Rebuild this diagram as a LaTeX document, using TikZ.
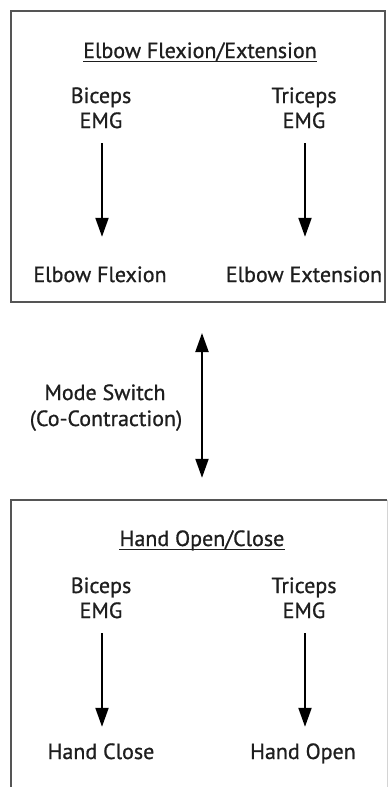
\documentclass[tikz,border=0pt]{standalone}
\usepackage{fontspec}
\setmainfont[FakeBold=0.8]{PT Sans}
\usetikzlibrary{arrows.meta}
\definecolor{txt}{HTML}{1E1E1E}
\definecolor{boxline}{HTML}{555555}
\begin{document}
\begin{tikzpicture}[x=1pt,y=-1pt,
  lbl/.style={inner sep=0pt, anchor=base, text height=16pt, text depth=5pt, text=txt, font=\fontsize{22}{26}\selectfont},
  arr/.style={line width=2pt, -{Triangle[length=19pt,width=13pt]}},
  dbl/.style={line width=2pt, {Triangle[length=19pt,width=13pt]}-{Triangle[length=19pt,width=13pt]}},
  frame/.style={draw=boxline, line width=2pt},
  uline/.style={draw=txt, line width=1pt}]
\useasboundingbox (0,0) rectangle (390,787);
\fill[white] (0,0) rectangle (390,787);

% top box
\node[frame, minimum width=374pt, minimum height=291pt, inner sep=0pt] (topbox) at (198,156.5) {};
\node[lbl] (t1) at (200,58) {Elbow Flexion/Extension};
\draw[uline] ([yshift=-3pt]t1.base west) -- ([yshift=-3pt]t1.base east);
\node[lbl] (b1) at (101,103) {Biceps};
\node[lbl] (e1) at (101,128) {EMG};
\node[lbl] (tr1) at (304,103) {Triceps};
\node[lbl] (f1) at (304,128) {EMG};
\node[lbl] (flex) at (100,282) {Elbow Flexion};
\node[lbl] (ext) at (304,282) {Elbow Extension};
\draw[arr, shorten <=10pt, shorten >=29pt] ([xshift=1pt]e1.south) -- ([xshift=1pt]e1.south |- flex.north);
\draw[arr, shorten <=10pt, shorten >=29pt] ([xshift=1pt]f1.south) -- ([xshift=1pt]f1.south |- ext.north);

% middle
\node[lbl] (m1) at (105,400) {Mode Switch};
\node[lbl] (m2) at (106,426) {(Co-Contraction)};

% bottom box
\node[inner sep=0pt, minimum width=376pt, minimum height=287pt] (botbox) at (199,643.5) {};
\draw[boxline, line width=2pt] (botbox.south west) -- (botbox.north west) -- (botbox.north east);
\draw[boxline!25, line width=1pt] (botbox.north east) -- (botbox.south east);
\draw[dbl, shorten <=30pt, shorten >=22pt] (topbox.south -| 202,0) -- (botbox.north -| 202,0);

\node[lbl] (t2) at (202,546) {Hand Open/Close};
\draw[uline] ([yshift=-3pt]t2.base west) -- ([yshift=-3pt]t2.base east);
\node[lbl] (b2) at (101,593) {Biceps};
\node[lbl] (e2) at (101,618) {EMG};
\node[lbl] (tr2) at (304,593) {Triceps};
\node[lbl] (f2) at (304,618) {EMG};
\node[lbl] (hc) at (101,759) {Hand Close};
\node[lbl] (ho) at (303,759) {Hand Open};
\draw[arr, shorten <=10pt, shorten >=16pt] ([xshift=1pt]e2.south) -- ([xshift=1pt]e2.south |- hc.north);
\draw[arr, shorten <=10pt, shorten >=16pt] ([xshift=1pt]f2.south) -- ([xshift=1pt]f2.south |- ho.north);
\end{tikzpicture}
\end{document}
